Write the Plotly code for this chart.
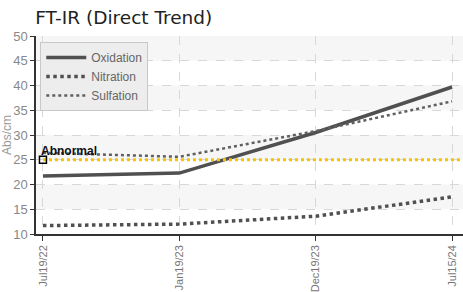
import plotly.graph_objects as go

dates = ["Jul19/22", "Jan19/23", "Dec19/23", "Jul15/24"]
oxidation = [21.7, 22.3, 30.5, 39.7]
nitration = [11.7, 12.0, 13.6, 17.5]
sulfation = [26.4, 25.6, 30.8, 36.8]
abnormal = 25
y_ticks = [10, 15, 20, 25, 30, 35, 40, 45, 50]

font_narrow = "Liberation Sans Narrow, Liberation Sans, Arial, sans-serif"
idx = list(range(len(dates)))

fig = go.Figure()

# alternating bands
for lo in [45, 35, 25, 15]:
    fig.add_shape(type="rect", xref="paper", yref="y", x0=0, x1=1, y0=lo, y1=lo + 5,
                  fillcolor="#f6f6f6", line_width=0, layer="below")

fig.add_trace(go.Scatter(x=idx, y=oxidation, mode="lines", name="Oxidation",
                         line=dict(color="#505050", width=3.5)))
fig.add_trace(go.Scatter(x=idx, y=nitration, mode="lines", name="Nitration",
                         line=dict(color="#505050", width=3.5, dash="dot")))
fig.add_trace(go.Scatter(x=idx, y=sulfation, mode="lines", name="Sulfation",
                         line=dict(color="#606060", width=2.5, dash="dot")))

# abnormal limit line
fig.add_trace(go.Scatter(x=[idx[0], 3.1], y=[abnormal, abnormal], mode="lines",
                         line=dict(color="#f5c400", width=3, dash="dot"),
                         showlegend=False, hoverinfo="skip"))
fig.add_trace(go.Scatter(x=[idx[0]], y=[abnormal], mode="markers",
                         marker=dict(symbol="square-open", size=7, color="black",
                                     line=dict(width=1.5)),
                         showlegend=False, hoverinfo="skip"))
fig.add_annotation(x=idx[0], y=abnormal, text="<b>Abnormal</b>", showarrow=False,
                   xanchor="left", yanchor="bottom", xshift=-4, yshift=0,
                   font=dict(family=font_narrow, size=12, color="#111"))

fig.update_layout(
    width=463, height=292,
    margin=dict(l=36, r=0, t=36, b=58, autoexpand=False),
    paper_bgcolor="white", plot_bgcolor="white",
    title=dict(text="FT-IR (Direct Trend)", x=0.076, xanchor="left", y=0.94, yanchor="middle",
               font=dict(family="DejaVu Sans", size=18.5, color="#222")),
    showlegend=True,
    legend=dict(x=0.01, y=0.97, xanchor="left", yanchor="top",
                bgcolor="#ededed", bordercolor="#c8c8c8", borderwidth=1,
                font=dict(family=font_narrow, size=12, color="#666"),
                tracegroupgap=0, itemwidth=40),
    xaxis=dict(
        range=[-0.051, 3.08], tickmode="array", tickvals=idx, ticktext=dates,
        tickangle=-90, showgrid=True, gridcolor="#d8d8d8", griddash="dash", gridwidth=1,
        showline=True, linecolor="#333", linewidth=1.5, ticks="outside", ticklen=5,
        tickcolor="#333", zeroline=False, automargin=False,
        tickfont=dict(family=font_narrow, size=11, color="#777"),
    ),
    yaxis=dict(
        range=[10, 50], tickvals=y_ticks, showgrid=True, gridcolor="#d8d8d8",
        griddash="dash", gridwidth=1, showline=True, linecolor="#333", linewidth=1.5,
        ticks="outside", ticklen=4, tickcolor="#333", zeroline=False, automargin=False,
        tickfont=dict(family=font_narrow, size=13, color="#888"),
        title=dict(text="Abs/cm", standoff=4,
                   font=dict(family=font_narrow, size=12, color="#999")),
    ),
)

fig.write_html("out.html", config={"displayModeBar": False},
               post_script="document.body.style.margin='0';")
